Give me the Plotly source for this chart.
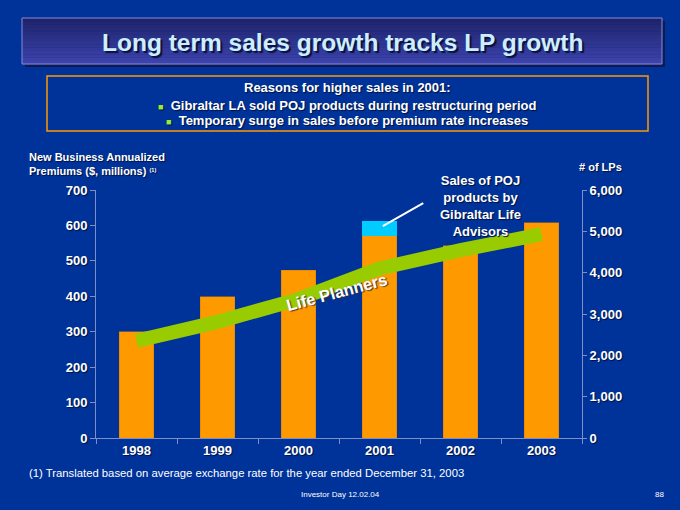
import plotly.graph_objects as go

# ---------------------------------------------------------------------------
# Data
# ---------------------------------------------------------------------------
years = ["1998", "1999", "2000", "2001", "2002", "2003"]
lp_sales = [300, 398, 473, 571, 542, 608]          # $ millions, orange bars
poj_sales = [0, 0, 0, 42, 0, 0]                    # POJ sales by Gibraltar Life Advisors
life_planners = [2350, 2810, 3360, 4100, 4545, 4930]  # number of LPs (green band)

left_ticks = [0, 100, 200, 300, 400, 500, 600, 700]
right_ticks = [0, 1000, 2000, 3000, 4000, 5000, 6000]
right_tick_labels = ["0", "1,000", "2,000", "3,000", "4,000", "5,000", "6,000"]

# ---------------------------------------------------------------------------
# Style constants
# ---------------------------------------------------------------------------
BG = "#003399"
ORANGE = "#ff9900"
CYAN = "#00ccff"
GREEN = "#99cc00"
AXIS = "#7f8fc4"
FONT = "Liberation Sans, Arial, sans-serif"
SHADOW = "1px 1px 1px #001040"

W, H = 680, 510
L, R, T, B = 96, 582, 190, 438   # plot area in pixels


def px(x):
    return (x - L) / (R - L)


def py(y):
    return (B - y) / (B - T)


def hex_mix(c1, c2, t):
    a = [int(c1[i:i + 2], 16) for i in (1, 3, 5)]
    b = [int(c2[i:i + 2], 16) for i in (1, 3, 5)]
    return "#" + "".join(f"{round(a[k] + (b[k] - a[k]) * t):02x}" for k in range(3))


fig = go.Figure()

fig.add_trace(go.Bar(
    x=years, y=lp_sales, width=0.42,
    marker=dict(color=ORANGE, line=dict(color="#d98000", width=0.5)),
    showlegend=False, hoverinfo="x+y",
))
fig.add_trace(go.Bar(
    x=years, y=poj_sales, width=0.42,
    marker=dict(color=CYAN, line=dict(width=0)),
    showlegend=False, hoverinfo="x+y",
))
fig.add_trace(go.Scatter(
    x=years, y=life_planners, yaxis="y2", mode="lines",
    line=dict(color=GREEN, width=14),
    showlegend=False, hoverinfo="x+y",
))

# ---------------------------------------------------------------------------
# Title banner, reasons box, callout pointer
# ---------------------------------------------------------------------------
shapes = [dict(type="rect", xref="paper", yref="paper",
               x0=px(25), x1=px(665), y0=py(21), y1=py(67),
               fillcolor="#0d1a55", line=dict(width=0), layer="below")]
n_strips = 14
top_y, bot_y = 18, 64
for i in range(n_strips):
    y0 = top_y + (bot_y - top_y) * i / n_strips
    y1 = top_y + (bot_y - top_y) * (i + 1) / n_strips
    shapes.append(dict(type="rect", xref="paper", yref="paper",
                       x0=px(22), x1=px(662), y0=py(y0), y1=py(y1 + 0.3),
                       fillcolor=hex_mix("#1e246c", "#3c43ac", i / (n_strips - 1)),
                       line=dict(width=0), layer="below"))
shapes.append(dict(type="rect", xref="paper", yref="paper",
                   x0=px(22), x1=px(662), y0=py(top_y), y1=py(bot_y),
                   line=dict(color="#8a8ad0", width=1), layer="below"))
shapes.append(dict(type="rect", xref="paper", yref="paper",
                   x0=px(47), x1=px(648), y0=py(76), y1=py(131),
                   line=dict(color=ORANGE, width=1.5), layer="below"))
# pointer from the callout text to the cyan 2001 segment
shapes.append(dict(type="line", xref="x", yref="y",
                   x0=3.04, y0=598, x1=3.54, y1=663,
                   line=dict(color="white", width=2)))

bullet = '<span style="font-size:9px;color:#99ee33">■</span>  '


def text_ann(x, y, text, size, bold=True, color="white", xanchor="center",
             family=FONT, shadow=SHADOW):
    return dict(xref="paper", yref="paper", x=px(x), y=py(y), text=text,
                showarrow=False, xanchor=xanchor, yanchor="middle", align=xanchor,
                font=dict(family=family, size=size, color=color,
                          weight="bold" if bold else "normal", shadow=shadow))


annotations = [
    text_ann(342, 42, "Long term sales growth tracks LP growth", 24.5,
             color="#cceeff", shadow="2px 2px 1px #0a1040"),
    text_ann(347, 88, "Reasons for higher sales in 2001:", 13),
    text_ann(347, 105, bullet + "Gibraltar LA sold POJ products during restructuring period", 13),
    text_ann(347, 121, bullet + "Temporary surge in sales before premium rate increases", 13),
    text_ann(27, 164, "New Business Annualized<br>Premiums ($, millions) "
             "<span style='font-size:8px'><sup>(1)</sup></span>", 11, xanchor="left"),
    text_ann(600, 167, "# of LPs", 11),
    text_ann(27, 473, "(1) Translated based on average exchange rate for the year ended "
             "December 31, 2003", 11.3, bold=False, xanchor="left", shadow="none"),
    text_ann(340, 494, "Investor Day 12.02.04", 8, bold=False, shadow="none"),
    text_ann(659, 494, "88", 8, bold=False, shadow="none"),
    # callout on the 2001 bar
    dict(xref="x", yref="y", x=4.25, y=655,
         text="Sales of POJ<br>products by<br>Gibraltar Life<br>Advisors",
         showarrow=False, xanchor="center", yanchor="middle",
         font=dict(family=FONT, size=13, color="white", weight="bold", shadow=SHADOW)),
    dict(xref="x", yref="y", x=2.48, y=412, text="Life Planners", showarrow=False,
         textangle=-15, xanchor="center", yanchor="middle",
         font=dict(family=FONT, size=16.5, color="white", weight="bold",
                   shadow="1px 1px 1px #333333")),
]

tickfont = dict(family=FONT, size=13, color="white", weight="bold", shadow=SHADOW)

fig.update_layout(
    width=W, height=H,
    margin=dict(l=L, r=W - R, t=T, b=H - B, pad=0),
    paper_bgcolor=BG, plot_bgcolor=BG,
    barmode="stack", bargap=0.58,
    font=dict(family=FONT, color="white"),
    shapes=shapes, annotations=annotations,
    xaxis=dict(type="category", showgrid=False, zeroline=False,
               showline=True, linecolor=AXIS, linewidth=1,
               ticks="outside", tickson="boundaries", ticklen=5, tickcolor=AXIS,
               tickfont=tickfont),
    yaxis=dict(range=[0, 700], tickvals=left_ticks, showgrid=False, zeroline=False,
               showline=True, linecolor=AXIS, linewidth=1,
               ticks="outside", ticklen=5, tickcolor=AXIS, tickfont=tickfont),
    yaxis2=dict(range=[0, 6000], tickvals=right_ticks, ticktext=right_tick_labels,
                overlaying="y", side="right", showgrid=False, zeroline=False,
                showline=True, linecolor=AXIS, linewidth=1,
                ticks="outside", ticklen=4, tickcolor=AXIS, tickfont=tickfont),
)

# the page is photographed at exactly the figure size, so drop the body margin
fig.write_html("out.html", config={"displayModeBar": False},
               post_script="document.body.style.margin='0';"
                           "document.body.style.background='%s';" % BG)
